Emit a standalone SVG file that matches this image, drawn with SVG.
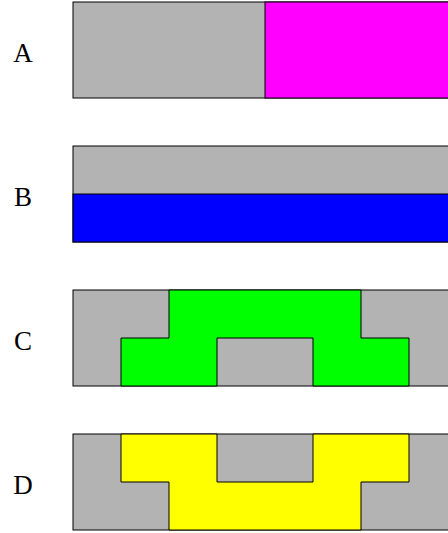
<svg xmlns="http://www.w3.org/2000/svg" width="448" height="533" viewBox="0 0 448 533">
<style>
.s{stroke:#000;stroke-width:1;stroke-linejoin:miter}
.g{fill:#b3b3b3}
.lbl{font-family:"Liberation Serif","Times New Roman",serif;font-size:27px;fill:#000;text-anchor:middle}
</style>
<rect width="448" height="533" fill="#fff"/>
<g id="A">
<rect class="s g" x="73" y="2" width="384" height="96"/>
<rect class="s" x="265" y="2" width="192" height="96" fill="#ff00ff"/>
<text class="lbl" x="23" y="62">A</text>
</g>
<g id="B">
<rect class="s g" x="73" y="146" width="384" height="96"/>
<rect class="s" x="73" y="194" width="384" height="48" fill="#0000ff"/>
<text class="lbl" x="23" y="206">B</text>
</g>
<g id="C">
<rect class="s g" x="73" y="290" width="384" height="96"/>
<polygon class="s" fill="#00ff00" points="169,290 361,290 361,338 409,338 409,386 313,386 313,338 217,338 217,386 121,386 121,338 169,338"/>
<text class="lbl" x="23" y="350">C</text>
</g>
<g id="D">
<rect class="s g" x="73" y="434" width="384" height="96"/>
<polygon class="s" fill="#ffff00" points="121,434 217,434 217,482 313,482 313,434 409,434 409,482 361,482 361,530 169,530 169,482 121,482"/>
<text class="lbl" x="23" y="494">D</text>
</g>
<g id="connectors"></g>
</svg>
